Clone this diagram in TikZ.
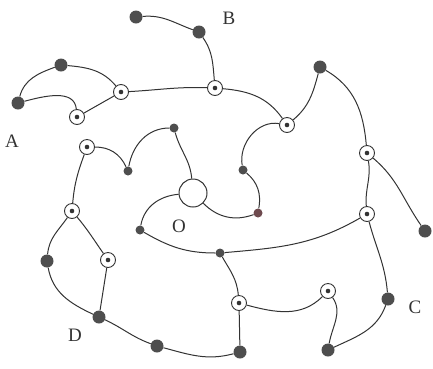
\documentclass[tikz,border=0pt]{standalone}
\usepackage{fontspec}
\setmainfont{Liberation Serif}
\usepackage{tikz}
\usetikzlibrary{calc,positioning}

\definecolor{inkline}{HTML}{333333}
\definecolor{inkdot}{HTML}{4E4E4E}
\definecolor{inkred}{HTML}{6E4A4E}

\tikzset{
  bigdot/.style={circle, fill=inkdot, inner sep=0pt, minimum size=13pt},
  smalldot/.style={circle, fill=inkdot, inner sep=0pt, minimum size=9pt},
  ring/.style={circle, draw=inkline, line width=0.9pt, fill=white, inner sep=0pt, minimum size=15pt,
    path picture={\fill[inkline] (path picture bounding box.center) circle (2.3pt);}},
  hub/.style={circle, draw=inkline, line width=1pt, fill=white, inner sep=0pt, minimum size=28pt},
  tag/.style={font=\fontsize{19}{19}\selectfont, text=inkline, inner sep=0pt},
  link/.style={draw=inkline, line width=1pt}
}

\begin{document}
\begin{tikzpicture}[x=1pt,y=1pt]
		\useasboundingbox (0,0) rectangle (433,-368);
		
		% Centre
		\node[hub] (O) at (193,-193) {};
		\node[tag] (labO) at (179,-226) {O};
		
		% Branch B
		\node[bigdot] (b1) at (136,-17) {};
		\node[bigdot] (b2) at (199,-32) {};
		\node[ring] (hB) at (215,-88) {};
		\node[tag] (labB) at (229,-18) {B};
		
		% Branch A
		\node[bigdot] (a1) at (61,-65) {};
		\node[bigdot] (a2) at (18,-103) {};
		\node[ring] (hA1) at (121,-92) {};
		\node[ring] (hA2) at (77,-117) {};
		\node[tag] (labA) at (12,-141) {A};
		
		% Right side
		\node[bigdot] (r1) at (320,-67) {};
		\node[ring] (hR1) at (287,-125) {};
		\node[ring] (hR2) at (367,-153) {};
		\node[bigdot] (r2) at (425,-231) {};
		\node[ring] (hR3) at (367,-214) {};
		\node[smalldot] (s1) at (243,-170) {};
		\node[smalldot, fill=inkred] (s2) at (258,-213) {};
		
		% Inner left
		\node[smalldot] (c1) at (174,-128) {};
		\node[smalldot] (c2) at (128,-171) {};
		\node[ring] (hL1) at (87,-147) {};
		\node[smalldot] (s3) at (140,-230) {};
		\node[smalldot] (s4) at (220,-253) {};
		
		% Branch D
		\node[ring] (hL2) at (72,-211) {};
		\node[bigdot] (l1) at (47,-261) {};
		\node[ring] (hL3) at (108,-260) {};
		\node[bigdot] (l2) at (99,-317) {};
		\node[bigdot] (d1) at (157,-346) {};
		\node[bigdot] (d2) at (240,-352) {};
		\node[tag] (labD) at (75,-335) {D};
		
		% Branch C
		\node[ring] (hD1) at (239,-303) {};
		\node[ring] (hD2) at (328,-291) {};
		\node[bigdot] (d3) at (328,-350) {};
		\node[bigdot] (d4) at (388,-299) {};
		\node[tag] (labC) at (415,-307) {C};
		
		% Links
		\path[link] (b1) to[out=5,in=160] (b2);
		\path[link] (b2) to[out=-55,in=95] (hB);
		\path[link] (a2) to[out=75,in=200] (a1);
		\path[link] (a1) to[out=-5,in=130] (hA1);
		\path[link] (a2) to[out=15,in=95] (hA2);
		\path[link] (hA2) -- (hA1);
		\path[link] (hA1) to[out=3,in=178] (hB);
		\path[link] (hB) to[out=-5,in=125] (hR1);
		\path[link] (hR1) to[out=40,in=-105] (r1);
		\path[link] (hR1) to[out=170,in=100] (s1);
		\path[link] (s1) to[out=-40,in=80] (s2);
		\path[link] (s2) to[out=200,in=-45] (O);
		\path[link] (O) to[out=95,in=-75] (c1);
		\path[link] (c1) to[out=180,in=80] (c2);
		\path[link] (c2) to[out=115,in=0] (hL1);
		\path[link] (hL1) to[out=-110,in=85] (hL2);
		\path[link] (hL2) to[out=-125,in=85] (l1);
		\path[link] (hL2) to[out=-50,in=125] (hL3);
		\path[link] (l1) to[out=-80,in=155] (l2);
		\path[link] (hL3) -- (l2);
		\path[link] (l2) to[out=-25,in=160] (d1);
		\path[link] (d1) to[out=-15,in=195] (d2);
		\path[link] (d2) -- (hD1);
		\path[link] (hD1) to[out=95,in=-60] (s4);
		\path[link] (hD1) to[out=-15,in=-135] (hD2);
		\path[link] (hD2) to[out=-55,in=80] (d3);
		\path[link] (d3) to[out=25,in=-110] (d4);
		\path[link] (d4) to[out=95,in=-75] (hR3);
		\path[link] (hR3) to[out=95,in=-80] (hR2);
		\path[link] (r1) to[out=-30,in=95] (hR2);
		\path[link] (hR2) to[out=-40,in=125] (r2);
		\path[link] (s4) to[out=5,in=210] (hR3);
		\path[link] (s3) to[out=-30,in=180] (s4);
		\path[link] (s3) to[out=80,in=185] (O);
	\end{tikzpicture}
\end{document}
